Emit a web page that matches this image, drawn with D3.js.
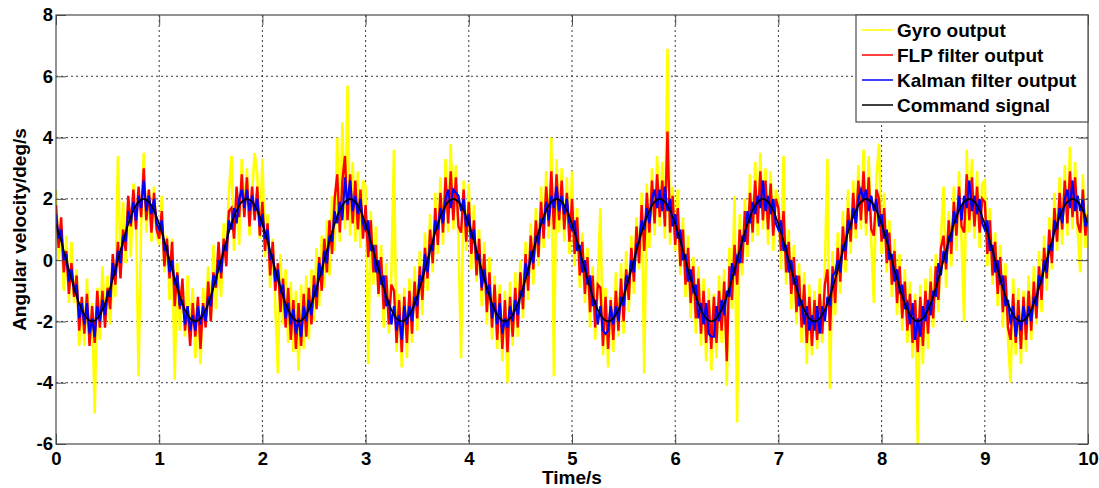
<!DOCTYPE html>
<html>
<head>
<meta charset="utf-8">
<script src="https://cdn.jsdelivr.net/npm/d3@7"></script>
<style>
  html, body { margin: 0; padding: 0; background: #fff; }
  svg { display: block; }
</style>
</head>
<body>
<svg id="chart" width="1099" height="488"></svg>
<script>
// Sampling intervals (seconds)
const sampleStep = 0.025;
const commandStep = 0.05;

const xTicks = [0, 1, 2, 3, 4, 5, 6, 7, 8, 9, 10];
const yTicks = [-6, -4, -2, 0, 2, 4, 6, 8];

const seriesNames = ["Gyro output", "FLP filter output", "Kalman filter output", "Command signal"];
const seriesColors = ["#ffff00", "#ff0000", "#0000ff", "#000000"];

// Raw gyro rate (deg/s), one value every sampleStep
const gyroOutput = [
  2.3,0.0,1.0,-1.0,0.8,-1.4,0.6,-1.4,-0.3,-2.8,-1.3,-2.8,-0.6,-2.7,-1.4,-5.0,-0.9,-2.6,-0.2,-2.0,-0.5,-2.1,-0.1,-1.2,3.4,-0.1,1.9,-0.1,1.8,0.1,2.5,1.6,-3.8,1.1,3.5,0.9,2.3,0.6,2.4,0.8,
  0.5,2.1,-0.4,0.8,-1.3,0.7,-3.9,-0.1,-2.3,-0.8,-2.5,-0.5,-2.3,-0.9,-3.2,-1.3,-3.4,-0.9,-1.9,-0.2,-2.0,0.5,-1.6,-0.1,-1.2,1.2,0.0,2.2,3.4,0.3,2.3,0.5,3.3,1.5,3.0,0.8,2.2,3.5,2.8,0.7,
  3.3,0.1,1.5,-0.9,0.7,-1.5,-3.7,0.2,-2.1,-0.3,-2.7,-0.7,-3.0,-1.0,-3.6,-0.8,-2.9,-0.5,-2.6,-0.3,-2.0,0.4,-1.5,0.8,-0.9,1.3,-0.5,2.1,0.3,4.0,0.6,4.5,1.0,5.7,0.8,3.2,0.6,2.9,0.4,2.6,
  2.4,-3.4,1.6,-0.8,1.1,-1.2,0.5,-2.2,-0.1,-2.4,-0.4,3.6,-3.0,-1.1,-3.5,-0.9,-3.2,-0.6,-2.7,-0.2,-2.3,0.3,-1.8,0.9,-1.0,1.5,-0.4,2.2,0.2,2.7,0.5,3.3,0.9,3.8,1.0,3.1,0.7,-3.2,2.6,0.3,
  2.5,-0.3,1.8,-0.7,1.0,-1.5,0.6,-2.1,0.1,-2.6,-0.5,-2.9,-0.8,-3.3,-1.0,-4.0,-0.7,-2.8,-0.4,-2.5,0.0,-1.9,0.6,-1.3,1.2,-0.8,1.7,-0.2,2.4,0.4,2.9,0.7,4.0,-3.8,3.3,0.9,3.0,0.6,2.7,0.2,
  2.9,-0.2,1.7,-0.9,0.9,-1.4,0.4,-2.2,-0.2,-2.6,-0.6,1.7,-3.1,-0.9,-3.5,-1.2,-3.0,-0.4,-2.5,-0.1,-2.4,0.3,-1.7,0.8,-1.1,1.4,-0.3,2.2,-3.7,2.5,0.4,3.0,0.8,3.4,1.1,3.2,0.7,6.9,0.5,2.4,
  0.3,2.3,-0.5,1.4,-1.2,0.8,-1.9,0.1,-2.4,-0.2,-2.8,-0.6,-3.3,-0.9,-3.6,-1.1,-3.2,-0.5,-2.7,-0.3,-4.1,0.4,-1.6,2.1,-5.3,1.5,-0.5,2.0,0.1,2.8,0.6,3.2,0.8,3.5,1.0,3.0,0.5,2.9,0.3,2.3,
  2.0,-0.3,3.4,-0.8,1.0,-1.6,0.5,-2.1,-0.1,-2.7,-0.4,-3.4,-0.8,-3.1,-1.0,-2.9,-0.6,-2.7,-0.3,3.3,-4.2,0.3,-1.8,0.9,-1.1,1.6,-0.4,2.3,0.2,2.6,0.7,3.1,1.0,3.6,0.8,3.4,0.6,-1.4,2.7,3.8,
  0.2,2.2,-0.4,1.3,-1.2,0.7,-1.8,0.2,-2.3,-0.3,-2.7,-0.7,-3.2,-1.1,-6.0,-0.8,-3.4,-0.6,-2.9,-0.2,-2.2,0.2,-1.7,0.7,2.4,-0.9,1.6,-0.2,2.4,0.3,2.9,0.6,-2.0,3.6,0.9,3.3,0.7,2.9,0.4,2.5,
  2.6,-0.2,1.7,-0.8,0.9,-1.5,0.5,-2.2,-0.1,-2.6,-4.0,-0.6,-3.1,-0.9,-3.4,-1.0,-3.0,-0.5,-2.6,-0.2,-2.1,0.3,-1.7,0.8,-1.0,1.4,-0.3,2.2,0.3,2.7,0.5,3.1,0.8,3.7,1.0,3.2,0.9,-0.4,2.8,0.4,1.8
];

// FLP filter output (deg/s)
const flpOutput = [
  1.8,0.4,1.4,-0.4,0.3,-1.1,-0.1,-1.2,-0.5,-2.3,-1.2,-2.4,-1.1,-2.8,-1.5,-2.7,-1.0,-2.2,-1.0,-2.2,-0.9,-1.6,0.2,-0.8,0.6,-0.6,1.0,0.3,2.1,1.1,2.3,1.0,2.4,1.4,3.0,1.3,2.3,0.9,2.2,1.0,
  0.7,1.6,-0.2,0.7,-0.6,0.6,-1.5,-0.4,-1.6,-0.6,-2.3,-1.5,-2.8,-1.4,-2.5,-1.2,-2.9,-1.4,-2.2,-0.7,-2.0,-0.4,-0.9,0.6,-0.6,0.7,-0.2,1.6,1.7,0.7,2.4,1.4,2.8,1.4,2.7,1.1,2.4,1.3,2.4,0.8,
  1.9,0.3,1.2,-0.5,0.6,-1.0,-0.1,-1.7,-0.6,-2.2,-0.9,-2.6,-1.3,-2.9,-1.4,-2.8,-1.1,-2.5,-0.9,-2.1,-0.5,-1.6,0.1,-1.0,0.7,-0.4,1.3,0.2,2.0,2.8,0.9,2.6,3.4,1.3,2.8,1.2,2.6,1.0,2.3,0.7,
  1.8,0.1,1.3,-0.4,0.5,-1.1,0.1,-1.6,-0.5,-2.1,-0.8,-1.0,-2.7,-1.3,-3.0,-1.2,-2.7,-1.0,-2.4,-0.7,-1.9,-0.2,-1.3,0.4,-0.6,1.0,-0.1,1.7,0.5,2.2,0.9,2.7,1.2,2.9,1.3,2.7,1.1,0.9,2.3,0.6,
  1.9,0.2,1.3,-0.5,0.7,-1.0,0.2,-1.7,-0.4,-2.2,-0.8,-2.6,-1.1,-2.9,-1.3,-3.0,-1.2,-2.5,-0.9,-2.2,-0.4,-1.6,0.2,-1.0,0.8,-0.3,1.3,0.1,1.9,0.7,2.4,1.1,2.9,1.0,2.8,1.3,2.6,1.0,2.2,0.6,
  2.0,0.2,1.4,-0.5,0.6,-1.1,0.1,-1.7,-0.5,-2.2,-0.8,-0.9,-2.8,-1.2,-2.9,-1.3,-2.6,-1.0,-2.3,-0.6,-2.0,-0.3,-1.3,0.4,-0.7,1.1,-0.1,1.8,0.3,2.2,0.9,2.6,1.2,2.8,1.4,2.6,1.1,4.2,0.9,2.1,
  0.5,1.7,-0.2,1.0,-0.8,0.4,-1.4,-0.2,-1.9,-0.6,-2.4,-1.0,-2.7,-1.3,-2.9,-1.2,-2.7,-1.0,-2.3,-0.7,-3.3,-0.2,-1.3,0.5,-0.8,1.0,-0.1,1.6,0.5,2.2,0.9,2.6,1.2,2.9,1.3,2.6,1.0,2.5,0.8,2.0,
  1.7,0.3,1.6,-0.4,0.6,-1.1,0.1,-1.7,-0.5,-2.2,-0.8,-2.7,-1.2,-2.8,-1.3,-2.6,-1.1,-2.4,-0.8,-0.3,-2.3,-0.2,-1.4,0.4,-0.7,1.1,0.0,1.7,0.6,2.2,1.0,2.6,1.3,2.9,1.2,2.7,1.0,0.8,2.3,2.0,
  0.6,1.7,-0.1,0.9,-0.8,0.3,-1.4,-0.2,-1.9,-0.7,-2.3,-1.1,-2.7,-1.3,-3.0,-1.2,-2.8,-1.0,-2.4,-0.7,-1.9,-0.2,-1.3,0.4,0.8,-0.3,1.3,0.2,1.9,0.8,2.4,1.1,0.9,2.8,1.3,2.7,1.1,2.4,0.9,2.0,
  1.9,0.2,1.3,-0.5,0.6,-1.1,0.1,-1.7,-0.5,-2.2,-2.6,-1.1,-2.7,-1.3,-2.9,-1.2,-2.6,-1.0,-2.3,-0.7,-1.9,-0.2,-1.3,0.4,-0.6,1.0,-0.1,1.7,0.6,2.2,1.0,2.6,1.2,2.9,1.4,2.7,1.2,0.9,2.3,0.8,1.5
];

// Kalman filter output (deg/s)
const kalmanOutput = [
  1.5,0.7,1.0,0.0,0.2,-0.7,-0.3,-1.0,-0.8,-1.9,-1.4,-2.1,-1.4,-2.4,-1.9,-2.5,-1.5,-2.0,-1.3,-1.8,-1.0,-1.2,-0.1,-0.5,0.3,-0.1,0.8,0.6,1.6,1.2,1.9,1.3,2.1,1.7,2.6,1.6,2.1,1.5,2.0,1.2,
  1.0,1.3,0.3,0.5,-0.4,0.0,-0.8,-0.5,-1.5,-1.3,-2.1,-1.5,-2.3,-1.8,-2.3,-1.5,-2.1,-1.5,-2.0,-1.2,-1.5,-0.5,-0.7,0.0,-0.4,0.5,0.3,1.3,1.0,1.7,1.2,2.0,2.3,1.7,2.3,1.6,2.1,1.6,2.0,1.1,
  1.5,0.7,1.0,0.0,0.2,-0.7,-0.3,-1.0,-0.8,-1.9,-1.4,-2.1,-1.6,-2.4,-1.9,-2.5,-1.5,-2.0,-1.3,-1.8,-0.8,-1.2,-0.1,-0.5,0.3,-0.1,0.8,0.6,1.6,1.2,1.9,1.3,2.7,1.8,2.6,1.6,2.1,1.5,2.0,1.2,
  1.0,1.3,0.3,0.5,-0.4,0.0,-0.8,-0.5,-1.5,-1.3,-2.1,-1.5,-2.3,-1.8,-2.6,-1.5,-2.1,-1.5,-2.0,-1.2,-1.5,-0.5,-0.7,0.2,-0.4,0.5,0.3,1.3,1.0,1.7,1.2,2.0,2.3,1.7,2.3,2.2,2.1,1.6,2.0,1.1,
  1.5,0.7,1.0,0.0,0.2,-0.9,-0.3,-1.0,-0.8,-1.9,-1.4,-2.1,-1.4,-2.4,-1.9,-2.2,-1.5,-2.0,-1.3,-1.8,-1.0,-1.2,-0.1,-0.5,0.3,-0.1,0.8,0.6,1.3,1.2,1.9,1.3,2.1,1.7,2.4,1.6,2.1,1.5,2.0,1.2,
  1.0,1.3,0.3,0.5,-0.4,0.0,-0.8,-0.5,-1.5,-1.3,-2.1,-1.5,-2.3,-2.4,-2.3,-1.5,-2.1,-1.5,-2.0,-1.2,-1.5,-0.5,-0.7,0.0,-0.4,0.5,0.6,1.3,1.0,1.7,1.2,2.0,2.3,1.7,2.3,1.6,2.4,1.6,2.0,1.1,
  1.5,0.7,1.0,0.0,0.2,-0.7,-0.3,-1.0,-0.8,-1.9,-1.4,-2.1,-1.4,-2.4,-2.5,-2.5,-1.5,-2.0,-1.3,-1.8,-1.0,-1.2,-0.1,-0.5,0.1,-0.1,0.8,0.6,1.6,1.2,1.9,1.5,2.1,1.7,2.6,1.6,2.1,1.5,2.0,1.2,
  1.0,1.3,0.3,0.5,-0.4,0.0,-0.8,-0.5,-1.5,-1.3,-2.1,-1.5,-2.3,-1.8,-2.3,-1.5,-2.4,-1.5,-2.0,-1.2,-1.5,-0.5,-0.4,0.0,-0.4,0.5,0.3,1.3,1.0,1.7,1.2,2.0,2.3,2.0,2.3,1.6,2.1,1.6,2.0,1.1,
  1.5,0.7,1.0,0.0,0.2,-0.7,-0.3,-1.0,-0.8,-1.6,-1.4,-2.1,-1.4,-2.6,-1.9,-2.5,-1.5,-2.0,-1.3,-1.8,-1.0,-1.2,-0.1,-0.5,0.3,-0.1,0.8,0.6,1.6,1.2,2.1,1.3,2.1,1.7,2.6,1.6,2.1,1.5,2.0,1.2,
  1.0,1.3,0.3,0.5,-0.4,0.0,-0.8,-0.5,-1.5,-1.3,-2.1,-1.5,-2.5,-1.8,-2.3,-1.5,-2.1,-1.5,-2.0,-1.2,-1.5,-0.5,-0.7,0.0,-0.4,0.5,0.3,1.3,1.0,1.7,1.2,2.0,2.3,1.7,2.6,1.6,2.1,1.6,2.0,1.1,1.3
];

// Command signal (deg/s), one value every commandStep
const commandSignal = [
  1.18,0.62,0,-0.62,-1.18,-1.62,-1.90,-2,-1.90,-1.62,-1.18,-0.62,0,0.62,1.18,1.62,1.90,2,1.90,1.62,
  1.18,0.62,0,-0.62,-1.18,-1.62,-1.90,-2,-1.90,-1.62,-1.18,-0.62,0,0.62,1.18,1.62,1.90,2,1.90,1.62,
  1.18,0.62,0,-0.62,-1.18,-1.62,-1.90,-2,-1.90,-1.62,-1.18,-0.62,0,0.62,1.18,1.62,1.90,2,1.90,1.62,
  1.18,0.62,0,-0.62,-1.18,-1.62,-1.90,-2,-1.90,-1.62,-1.18,-0.62,0,0.62,1.18,1.62,1.90,2,1.90,1.62,
  1.18,0.62,0,-0.62,-1.18,-1.62,-1.90,-2,-1.90,-1.62,-1.18,-0.62,0,0.62,1.18,1.62,1.90,2,1.90,1.62,
  1.18,0.62,0,-0.62,-1.18,-1.62,-1.90,-2,-1.90,-1.62,-1.18,-0.62,0,0.62,1.18,1.62,1.90,2,1.90,1.62,
  1.18,0.62,0,-0.62,-1.18,-1.62,-1.90,-2,-1.90,-1.62,-1.18,-0.62,0,0.62,1.18,1.62,1.90,2,1.90,1.62,
  1.18,0.62,0,-0.62,-1.18,-1.62,-1.90,-2,-1.90,-1.62,-1.18,-0.62,0,0.62,1.18,1.62,1.90,2,1.90,1.62,
  1.18,0.62,0,-0.62,-1.18,-1.62,-1.90,-2,-1.90,-1.62,-1.18,-0.62,0,0.62,1.18,1.62,1.90,2,1.90,1.62,
  1.18,0.62,0,-0.62,-1.18,-1.62,-1.90,-2,-1.90,-1.62,-1.18,-0.62,0,0.62,1.18,1.62,1.90,2,1.90,1.62,
  1.18
];

const FONT = "Arial, 'Liberation Sans', Helvetica, sans-serif";
const frameColor = "#4a4a4a";

const plot = { left: 56, right: 1088, top: 15, bottom: 444 };

const svg = d3.select("#chart");

const x = d3.scaleLinear().domain([0, 10]).range([plot.left, plot.right]);
const y = d3.scaleLinear().domain([-6, 8]).range([plot.bottom, plot.top]);

// white plot background
svg.append("rect")
  .attr("x", plot.left).attr("y", plot.top)
  .attr("width", plot.right - plot.left).attr("height", plot.bottom - plot.top)
  .attr("fill", "#fff");

// dotted grid
const grid = svg.append("g").attr("stroke", "#222").attr("stroke-width", 0.9)
  .attr("stroke-dasharray", "2,3");
grid.selectAll("line.vx").data(xTicks.slice(1, -1)).join("line")
  .attr("x1", d => x(d)).attr("x2", d => x(d))
  .attr("y1", plot.top).attr("y2", plot.bottom);
grid.selectAll("line.hy").data(yTicks.slice(1, -1)).join("line")
  .attr("x1", plot.left).attr("x2", plot.right)
  .attr("y1", d => y(d)).attr("y2", d => y(d));

// clip to axes box
svg.append("clipPath").attr("id", "plotClip")
  .append("rect")
  .attr("x", plot.left).attr("y", plot.top)
  .attr("width", plot.right - plot.left).attr("height", plot.bottom - plot.top);

const dataLayer = svg.append("g").attr("clip-path", "url(#plotClip)");

const sampledLine = step => d3.line()
  .x((d, i) => x(i * step))
  .y(d => y(d));

const traces = [
  { values: gyroOutput, step: sampleStep, color: seriesColors[0], width: 2.6, curve: d3.curveLinear },
  { values: flpOutput, step: sampleStep, color: seriesColors[1], width: 2.4, curve: d3.curveLinear },
  { values: kalmanOutput, step: sampleStep, color: seriesColors[2], width: 2.2, curve: d3.curveLinear },
  { values: commandSignal, step: commandStep, color: seriesColors[3], width: 1.7, curve: d3.curveCatmullRom }
];

traces.forEach(t => {
  dataLayer.append("path")
    .datum(t.values)
    .attr("fill", "none")
    .attr("stroke", t.color)
    .attr("stroke-width", t.width)
    .attr("stroke-linejoin", "miter")
    .attr("d", sampledLine(t.step).curve(t.curve));
});

// axes with inward ticks on all four sides
const tickLen = 10;
const fmt = d => String(d);

function styleAxis(g, showText) {
  g.select(".domain").remove();
  g.selectAll(".tick line").attr("stroke", frameColor).attr("stroke-width", 1);
  g.selectAll(".tick text")
    .attr("fill", "#000")
    .attr("font-family", FONT)
    .attr("font-size", 18.5)
    .attr("font-weight", "bold")
    .style("display", showText ? null : "none");
}

svg.append("g")
  .attr("transform", `translate(0,${plot.bottom})`)
  .call(d3.axisBottom(x).tickValues(xTicks).tickSize(-tickLen).tickPadding(8).tickFormat(fmt))
  .call(g => styleAxis(g, true));

svg.append("g")
  .attr("transform", `translate(0,${plot.top})`)
  .call(d3.axisTop(x).tickValues(xTicks).tickSize(-tickLen).tickFormat(fmt))
  .call(g => styleAxis(g, false));

svg.append("g")
  .attr("transform", `translate(${plot.left},0)`)
  .call(d3.axisLeft(y).tickValues(yTicks).tickSize(-tickLen).tickPadding(3).tickFormat(fmt))
  .call(g => styleAxis(g, true));

svg.append("g")
  .attr("transform", `translate(${plot.right},0)`)
  .call(d3.axisRight(y).tickValues(yTicks).tickSize(-tickLen).tickFormat(fmt))
  .call(g => styleAxis(g, false));

// axes box
svg.append("rect")
  .attr("x", plot.left).attr("y", plot.top)
  .attr("width", plot.right - plot.left).attr("height", plot.bottom - plot.top)
  .attr("fill", "none").attr("stroke", frameColor).attr("stroke-width", 1.2);

// axis titles
svg.append("text")
  .attr("x", (plot.left + plot.right) / 2).attr("y", 484)
  .attr("text-anchor", "middle")
  .attr("font-family", FONT).attr("font-size", 19).attr("font-weight", "bold")
  .text("Time/s");

svg.append("text")
  .attr("transform", `translate(26,${(plot.top + plot.bottom) / 2}) rotate(-90)`)
  .attr("text-anchor", "middle")
  .attr("font-family", FONT).attr("font-size", 19).attr("font-weight", "bold")
  .text("Angular velocity/deg/s");

// legend
const legend = svg.append("g");
legend.append("rect")
  .attr("x", 856).attr("y", plot.top)
  .attr("width", plot.right - 856).attr("height", 107)
  .attr("fill", "#fff").attr("stroke", frameColor).attr("stroke-width", 1.2);

const rowY = d3.scalePoint().domain(seriesNames).range([30, 105]);
const rows = legend.selectAll("g.row").data(seriesNames).join("g")
  .attr("transform", d => `translate(0,${rowY(d)})`);
rows.append("line")
  .attr("x1", 862).attr("x2", 893)
  .attr("stroke", (d, i) => seriesColors[i]).attr("stroke-width", 1.5);
rows.append("text")
  .attr("x", 897).attr("y", 7)
  .attr("font-family", FONT).attr("font-size", 19).attr("font-weight", "bold")
  .attr("fill", "#000")
  .text(d => d);
</script>
</body>
</html>
